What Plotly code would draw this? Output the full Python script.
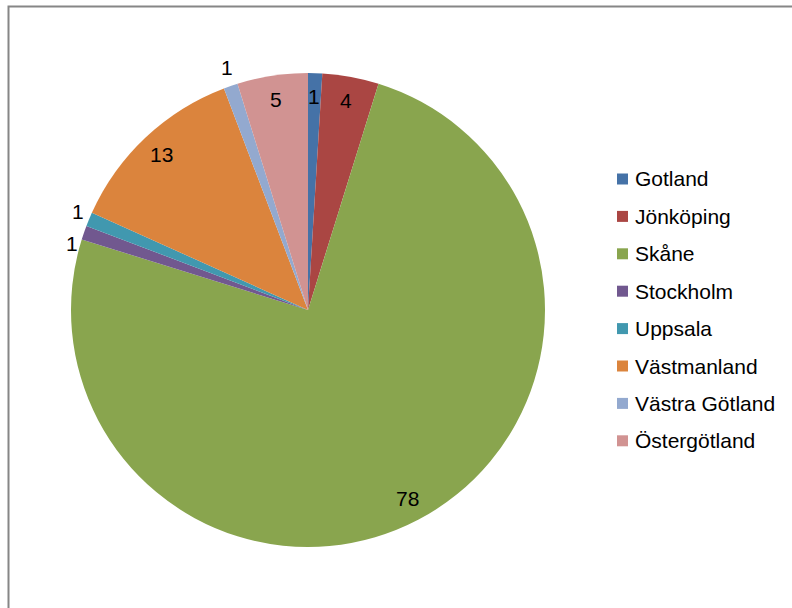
import math
import plotly.graph_objects as go

# Counts per region
regions = ["Gotland", "Jönköping", "Skåne", "Stockholm", "Uppsala",
           "Västmanland", "Västra Götland", "Östergötland"]
counts = [1, 4, 78, 1, 1, 13, 1, 5]
colors = ["#4572A7", "#AA4643", "#89A54E", "#71588F", "#4198AF",
          "#DB843D", "#93A9CF", "#D19392"]
label_side = ["inside", "inside", "inside", "outside", "outside",
              "inside", "outside", "inside"]

W, H = 792, 608
cx, cy, R = 308, 310, 237          # pie centre and radius in pixels
FONT = "Liberation Sans, Arial, sans-serif"
LABEL_SIZE = 21

fig = go.Figure(go.Pie(
    labels=regions,
    values=counts,
    sort=False,
    direction="clockwise",
    rotation=0,
    marker=dict(colors=colors, line=dict(width=0)),
    textinfo="none",
    hoverinfo="label+value",
    showlegend=False,
    domain=dict(x=[(cx - R) / W, (cx + R) / W],
                y=[(H - cy - R) / H, (H - cy + R) / H]),
))

# Data labels along each slice's mid-angle
total = sum(counts)
labels_inside, labels_outside = [], []
cum = 0
for v, side in zip(counts, label_side):
    mid = (cum + v / 2) / total * 2 * math.pi
    cum += v
    s, c = math.sin(mid), math.cos(mid)
    if side == "inside":
        r = 0.9 * R
        labels_inside.append([cx + r * s, cy - r * c, v])
    else:
        # box edge facing the pie sits just outside the rim
        r = R + 6
        w, h = 0.6 * LABEL_SIZE * len(str(v)), 1.3 * LABEL_SIZE
        px = cx + r * s + s * w / 2
        py = cy - r * c - c * h / 2
        labels_outside.append([px, py, v])

# keep outside labels on the same side from colliding vertically
gap = 1.5 * LABEL_SIZE
for half in (lambda p: p[0] < cx, lambda p: p[0] >= cx):
    group = sorted([p for p in labels_outside if half(p)], key=lambda p: p[1])
    for a, b in zip(group, group[1:]):
        if b[1] - a[1] < gap:
            b[1] = a[1] + gap

annotations = []
for px, py, v in labels_inside + labels_outside:
    annotations.append(dict(
        x=px / W, y=1 - py / H, xref="paper", yref="paper",
        text=str(v), showarrow=False, xanchor="center", yanchor="middle",
        font=dict(family=FONT, size=LABEL_SIZE, color="#000000"),
    ))

# Legend drawn as a column of swatches and names
shapes = []
leg_x, leg_y0, leg_step = 617, 179, 37.4
for i, (name, col) in enumerate(zip(regions, colors)):
    y = leg_y0 + i * leg_step
    shapes.append(dict(
        type="rect", xref="paper", yref="paper",
        x0=leg_x / W, x1=(leg_x + 11) / W,
        y0=1 - (y + 5.5) / H, y1=1 - (y - 5.5) / H,
        fillcolor=col, line=dict(width=0),
    ))
    annotations.append(dict(
        x=(leg_x + 16) / W, y=1 - y / H, xref="paper", yref="paper",
        text=name, showarrow=False, xanchor="left", yanchor="middle",
        font=dict(family=FONT, size=21, color="#000000"),
    ))

# Chart area border
shapes.append(dict(
    type="rect", xref="paper", yref="paper",
    x0=8.5 / W, x1=(W + 20) / W, y0=-20 / H, y1=1 - 6.5 / H,
    line=dict(color="#868686", width=2), fillcolor="rgba(0,0,0,0)",
))

fig.update_layout(
    width=W, height=H,
    margin=dict(l=0, r=0, t=0, b=0),
    paper_bgcolor="#FFFFFF",
    plot_bgcolor="#FFFFFF",
    annotations=annotations,
    shapes=shapes,
    showlegend=False,
)

fig.write_html("out.html")
